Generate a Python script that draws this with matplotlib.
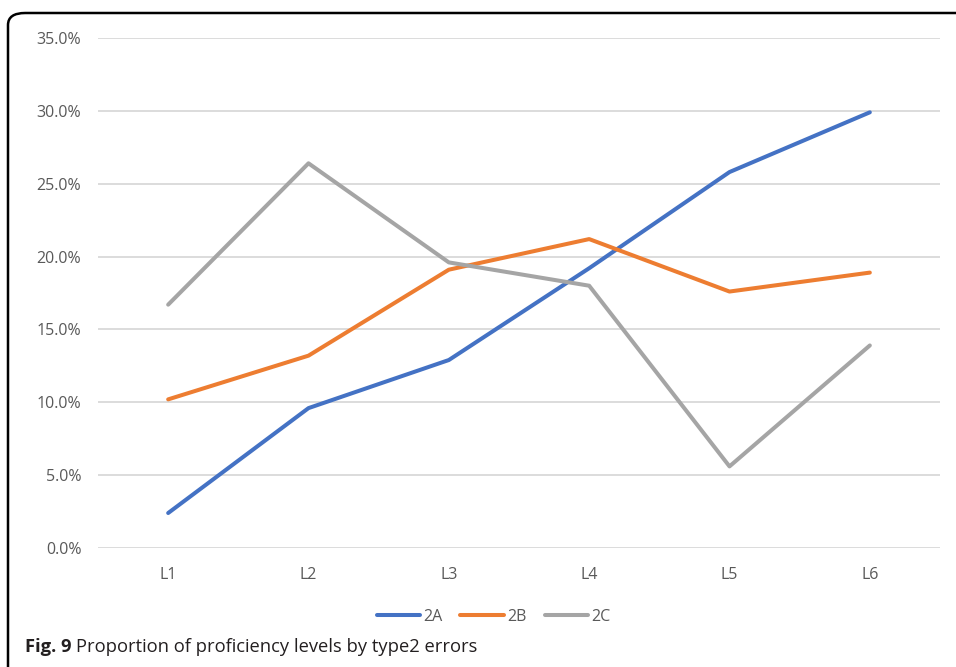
"""Line chart: proportion of proficiency levels by type2 errors."""

import matplotlib
matplotlib.use('Agg')
import matplotlib.pyplot as plt
from matplotlib.patches import FancyBboxPatch
from matplotlib.ticker import PercentFormatter
from matplotlib.transforms import offset_copy

plt.rcParams['font.family'] = ['Open Sans', 'DejaVu Sans']

levels = ['L1', 'L2', 'L3', 'L4', 'L5', 'L6']
err_2a = [2.4, 9.6, 12.9, 19.2, 25.8, 29.9]
err_2b = [10.2, 13.2, 19.1, 21.2, 17.6, 18.9]
err_2c = [16.7, 26.4, 19.6, 18.0, 5.6, 13.9]

series = [('2A', err_2a, '#4472C4'),
          ('2B', err_2b, '#ED7D31'),
          ('2C', err_2c, '#A5A5A5')]

fig = plt.figure(figsize=(9.56, 6.67), dpi=100)

# rounded frame around the figure, running off the right and bottom edges
frame = FancyBboxPatch((8 / 956, -0.2), 1.2, 1 - 13 / 667 + 0.2,
                       boxstyle='round,pad=0,rounding_size=0.018',
                       transform=fig.transFigure, fill=False,
                       edgecolor='black', linewidth=1.8, clip_on=False)
fig.patches.append(frame)

ax = fig.add_axes([98 / 956, 1 - 548 / 667, 842 / 956, 510 / 667])

x = range(len(levels))
for name, vals, color in series:
    ax.plot(x, [v / 100 for v in vals], color=color, linewidth=2.9,
            solid_capstyle='round', solid_joinstyle='round', label=name)

ax.set_xlim(-0.5, len(levels) - 0.5)
ax.set_ylim(0, 0.35)
ax.set_yticks([i * 0.05 for i in range(8)])
ax.yaxis.set_major_formatter(PercentFormatter(1.0, decimals=1))
ax.set_xticks(list(x))
ax.set_xticklabels(levels)

ax.grid(axis='y', color='#D9D9D9', linewidth=1.3)
ax.set_axisbelow(True)
for side in ax.spines.values():
    side.set_visible(False)
ax.tick_params(length=0, labelsize=11.5, labelcolor='#595959')
ax.tick_params(axis='y', pad=12)
ax.tick_params(axis='x', pad=14)

ax.legend(loc='center', bbox_to_anchor=(0.47, -0.135), ncol=3,
          frameon=False, fontsize=11.5, labelcolor='#595959',
          handlelength=2.7, handletextpad=0.25, columnspacing=1.1)

# caption: bold figure number followed by regular text
cap_x, cap_y = 25 / 956, 1 - 647 / 667
head = fig.text(cap_x, cap_y, 'Fig. 9', fontsize=13.2, fontweight='bold',
                va='center', ha='left', color='#231F20')
fig.canvas.draw()
head_w = head.get_window_extent().width
fig.text(cap_x, cap_y, 'Proportion of proficiency levels by type2 errors',
         fontsize=13.2, va='center', ha='left', color='#231F20',
         transform=offset_copy(fig.transFigure, fig=fig,
                               x=head_w + 5, y=0, units='dots'))

fig.savefig('out.png', dpi=100)
